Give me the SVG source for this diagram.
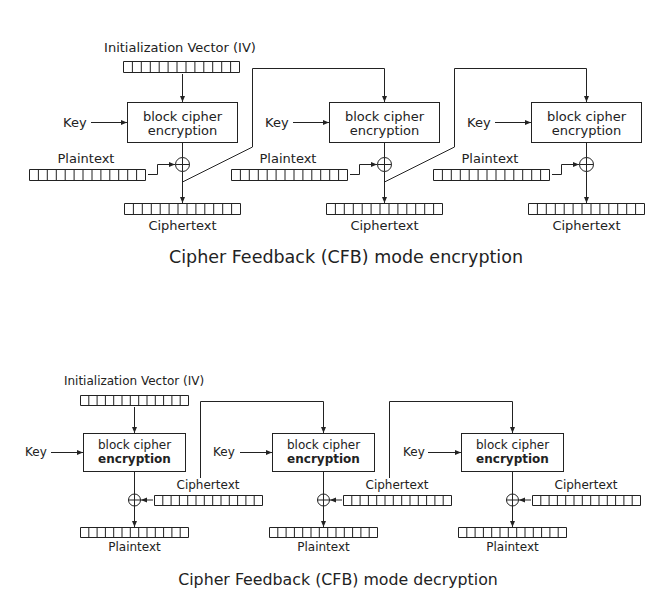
<svg xmlns="http://www.w3.org/2000/svg" xmlns:xlink="http://www.w3.org/1999/xlink" width="671" height="606" viewBox="0 0 671 606">
<defs>
<style>
.t{font-family:"DejaVu Sans","Liberation Sans",sans-serif;fill:#222;font-size:13px}
.s{font-size:12px}
.m{text-anchor:middle}
.b{font-weight:bold}
.ln{fill:none;stroke:#222;stroke-width:1}
.bx{fill:#fff;stroke:#222;stroke-width:1}
.ttl{font-size:17.5px}
.ttl2{font-size:15.8px}
</style>
<marker id="ah" markerUnits="userSpaceOnUse" markerWidth="7" markerHeight="6" refX="6" refY="2.5" orient="auto">
<path d="M0,0 L6,2.5 L0,5 z" fill="#222"/>
</marker>
<path id="regT" class="ln" d="M0.5,0.5 H116.5 V11.5 H0.5 Z M9.4,0.5 V11.5 M18.3,0.5 V11.5 M27.3,0.5 V11.5 M36.2,0.5 V11.5 M45.1,0.5 V11.5 M54,0.5 V11.5 M63,0.5 V11.5 M71.9,0.5 V11.5 M80.8,0.5 V11.5 M89.7,0.5 V11.5 M98.7,0.5 V11.5 M107.6,0.5 V11.5"/>
<path id="regB" class="ln" d="M0.5,0.5 H108.5 V10.5 H0.5 Z M8.8,0.5 V10.5 M17.1,0.5 V10.5 M25.4,0.5 V10.5 M33.7,0.5 V10.5 M42,0.5 V10.5 M50.3,0.5 V10.5 M58.7,0.5 V10.5 M67,0.5 V10.5 M75.3,0.5 V10.5 M83.6,0.5 V10.5 M91.9,0.5 V10.5 M100.2,0.5 V10.5"/>
<g id="xorT"><circle cx="0" cy="0" r="7" class="ln"/><path class="ln" d="M-7,0 H7 M0,-7 V7"/></g>
<g id="xorB"><circle cx="0" cy="0" r="6" class="ln"/><path class="ln" d="M-6,0 H6 M0,-6 V6"/></g>
</defs>
<rect width="671" height="606" fill="#fff"/>

<!-- ENCRYPTION -->
<g id="enc-iv">
<text class="t m" x="180" y="52">Initialization Vector (IV)</text>
<use xlink:href="#regT" x="123" y="61"/>
</g>

<g id="enc-block1">
<rect class="bx" x="127.5" y="102.5" width="110" height="40"/>
<text class="t m" x="182.5" y="121">block cipher</text>
<text class="t m" x="182.5" y="135">encryption</text>
</g>
<g id="enc-block2">
<rect class="bx" x="329.5" y="102.5" width="110" height="40"/>
<text class="t m" x="384.5" y="121">block cipher</text>
<text class="t m" x="384.5" y="135">encryption</text>
</g>
<g id="enc-block3">
<rect class="bx" x="531.5" y="102.5" width="110" height="40"/>
<text class="t m" x="586.5" y="121">block cipher</text>
<text class="t m" x="586.5" y="135">encryption</text>
</g>

<g id="enc-key1"><text class="t" x="63" y="127">Key</text></g>
<g id="enc-key2"><text class="t" x="265" y="127">Key</text></g>
<g id="enc-key3"><text class="t" x="467" y="127">Key</text></g>

<g id="enc-pt1"><text class="t m" x="86" y="163">Plaintext</text><use xlink:href="#regT" x="29" y="169"/></g>
<g id="enc-pt2"><text class="t m" x="288" y="163">Plaintext</text><use xlink:href="#regT" x="231" y="169"/></g>
<g id="enc-pt3"><text class="t m" x="490" y="163">Plaintext</text><use xlink:href="#regT" x="433" y="169"/></g>

<g id="enc-xor1"><use xlink:href="#xorT" x="182.5" y="164.5"/></g>
<g id="enc-xor2"><use xlink:href="#xorT" x="384.5" y="164.5"/></g>
<g id="enc-xor3"><use xlink:href="#xorT" x="586.5" y="164.5"/></g>

<g id="enc-ct1"><use xlink:href="#regT" x="124" y="203"/><text class="t m" x="182.5" y="230">Ciphertext</text></g>
<g id="enc-ct2"><use xlink:href="#regT" x="326" y="203"/><text class="t m" x="384.5" y="230">Ciphertext</text></g>
<g id="enc-ct3"><use xlink:href="#regT" x="528" y="203"/><text class="t m" x="586.5" y="230">Ciphertext</text></g>

<g id="enc-title"><text class="t ttl m" x="346" y="263">Cipher Feedback (CFB) mode encryption</text></g>

<g id="enc-connectors">
<path class="ln" d="M182.5,74 V102" marker-end="url(#ah)"/>
<path class="ln" d="M91,122.5 H127" marker-end="url(#ah)"/>
<path class="ln" d="M293,122.5 H329" marker-end="url(#ah)"/>
<path class="ln" d="M495,122.5 H531" marker-end="url(#ah)"/>
<path class="ln" d="M182.5,143 V157.5"/>
<path class="ln" d="M384.5,143 V157.5"/>
<path class="ln" d="M586.5,143 V157.5"/>
<path class="ln" d="M148,174.5 H157.5 V164.5 H175" marker-end="url(#ah)"/>
<path class="ln" d="M350,174.5 H359.5 V164.5 H377" marker-end="url(#ah)"/>
<path class="ln" d="M552,174.5 H561.5 V164.5 H579" marker-end="url(#ah)"/>
<path class="ln" d="M182.5,171.5 V203" marker-end="url(#ah)"/>
<path class="ln" d="M384.5,171.5 V203" marker-end="url(#ah)"/>
<path class="ln" d="M586.5,171.5 V203" marker-end="url(#ah)"/>
<path class="ln" d="M182.5,182 L252.5,147 V68.5 H384.5 V102" marker-end="url(#ah)"/>
<path class="ln" d="M384.5,182 L454.5,147 V68.5 H586.5 V102" marker-end="url(#ah)"/>
</g>

<!-- DECRYPTION -->
<g id="dec-iv">
<text class="t s m" x="134" y="385">Initialization Vector (IV)</text>
<use xlink:href="#regB" x="80" y="395"/>
</g>

<g id="dec-block1">
<rect class="bx" x="83.5" y="433.5" width="102" height="38"/>
<text class="t s m" x="134.5" y="449">block cipher</text>
<text class="t s m b" x="134.5" y="463">encryption</text>
</g>
<g id="dec-block2">
<rect class="bx" x="272.5" y="433.5" width="102" height="38"/>
<text class="t s m" x="323.5" y="449">block cipher</text>
<text class="t s m b" x="323.5" y="463">encryption</text>
</g>
<g id="dec-block3">
<rect class="bx" x="461.5" y="433.5" width="102" height="38"/>
<text class="t s m" x="512.5" y="449">block cipher</text>
<text class="t s m b" x="512.5" y="463">encryption</text>
</g>

<g id="dec-key1"><text class="t s" x="25" y="456">Key</text></g>
<g id="dec-key2"><text class="t s" x="213" y="456">Key</text></g>
<g id="dec-key3"><text class="t s" x="403" y="456">Key</text></g>

<g id="dec-xor1"><use xlink:href="#xorB" x="134.5" y="500"/></g>
<g id="dec-xor2"><use xlink:href="#xorB" x="323.5" y="500"/></g>
<g id="dec-xor3"><use xlink:href="#xorB" x="512.5" y="500"/></g>

<g id="dec-ct1"><text class="t s m" x="208" y="489">Ciphertext</text><use xlink:href="#regB" x="154" y="495"/></g>
<g id="dec-ct2"><text class="t s m" x="397" y="489">Ciphertext</text><use xlink:href="#regB" x="343" y="495"/></g>
<g id="dec-ct3"><text class="t s m" x="586" y="489">Ciphertext</text><use xlink:href="#regB" x="532" y="495"/></g>

<g id="dec-pt1"><use xlink:href="#regB" x="80" y="527"/><text class="t s m" x="134.5" y="551">Plaintext</text></g>
<g id="dec-pt2"><use xlink:href="#regB" x="269" y="527"/><text class="t s m" x="323.5" y="551">Plaintext</text></g>
<g id="dec-pt3"><use xlink:href="#regB" x="458" y="527"/><text class="t s m" x="512.5" y="551">Plaintext</text></g>

<g id="dec-title"><text class="t ttl2 m" x="338" y="585">Cipher Feedback (CFB) mode decryption</text></g>

<g id="dec-connectors">
<path class="ln" d="M134.5,407 V433" marker-end="url(#ah)"/>
<path class="ln" d="M51,452.5 H83" marker-end="url(#ah)"/>
<path class="ln" d="M240,452.5 H272" marker-end="url(#ah)"/>
<path class="ln" d="M428,452.5 H461" marker-end="url(#ah)"/>
<path class="ln" d="M134.5,472 V494"/>
<path class="ln" d="M323.5,472 V494"/>
<path class="ln" d="M512.5,472 V494"/>
<path class="ln" d="M153,500 H141" marker-end="url(#ah)"/>
<path class="ln" d="M342,500 H330" marker-end="url(#ah)"/>
<path class="ln" d="M531,500 H519" marker-end="url(#ah)"/>
<path class="ln" d="M134.5,506 V527" marker-end="url(#ah)"/>
<path class="ln" d="M323.5,506 V527" marker-end="url(#ah)"/>
<path class="ln" d="M512.5,506 V527" marker-end="url(#ah)"/>
<path class="ln" d="M200.5,478 V401.5 H323.5 V433" marker-end="url(#ah)"/>
<path class="ln" d="M389.5,478 V401.5 H512.5 V433" marker-end="url(#ah)"/>
</g>
</svg>
